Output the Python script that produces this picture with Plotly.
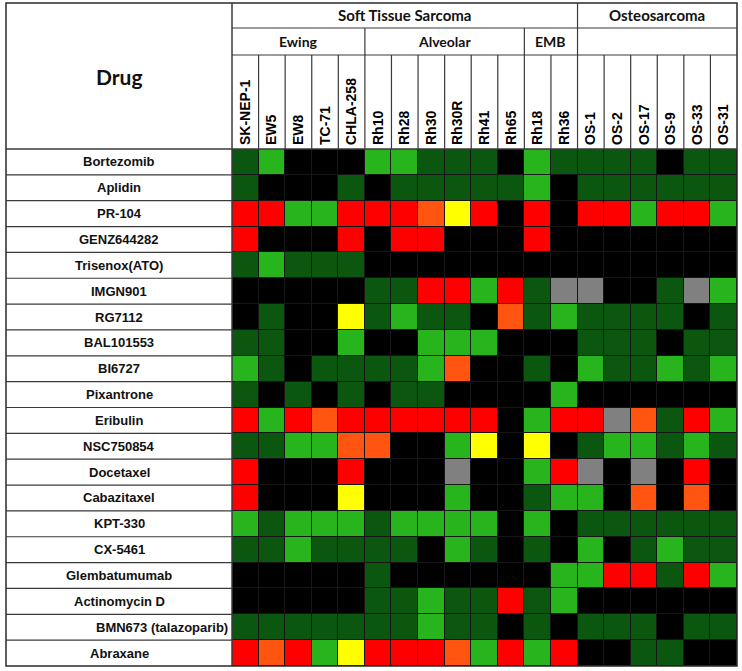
import plotly.graph_objects as go

# ---- data ----
columns = ["SK-NEP-1", "EW5", "EW8", "TC-71", "CHLA-258",
           "Rh10", "Rh28", "Rh30", "Rh30R", "Rh41", "Rh65",
           "Rh18", "Rh36",
           "OS-1", "OS-2", "OS-17", "OS-9", "OS-33", "OS-31"]

drugs = ["Bortezomib", "Aplidin", "PR-104", "GENZ644282", "Trisenox(ATO)",
         "IMGN901", "RG7112", "BAL101553", "BI6727", "Pixantrone",
         "Eribulin", "NSC750854", "Docetaxel", "Cabazitaxel", "KPT-330",
         "CX-5461", "Glembatumumab", "Actinomycin D", "BMN673 (talazoparib)", "Abraxane"]

# response codes: 0 none(black), 1 dark green, 2 bright green, 3 red, 4 orange, 5 yellow, 6 grey
response = [
    [1, 2, 0, 0, 0, 2, 2, 1, 1, 1, 0, 2, 1, 1, 1, 1, 0, 1, 1],
    [1, 0, 0, 0, 1, 0, 1, 1, 1, 1, 1, 2, 0, 1, 1, 1, 1, 1, 1],
    [3, 3, 2, 2, 3, 3, 3, 4, 5, 3, 0, 3, 0, 3, 3, 2, 3, 3, 2],
    [3, 0, 0, 0, 3, 0, 3, 3, 0, 0, 0, 3, 0, 0, 0, 0, 0, 0, 0],
    [1, 2, 1, 1, 1, 0, 0, 0, 0, 0, 0, 0, 0, 0, 0, 0, 0, 0, 0],
    [0, 0, 0, 0, 0, 1, 1, 3, 3, 2, 3, 1, 6, 6, 0, 0, 1, 6, 2],
    [0, 1, 0, 0, 5, 1, 2, 1, 1, 0, 4, 1, 2, 1, 1, 1, 1, 0, 1],
    [1, 1, 0, 0, 2, 0, 0, 2, 2, 2, 0, 0, 0, 1, 1, 1, 0, 1, 1],
    [2, 1, 0, 1, 1, 1, 1, 2, 4, 0, 0, 1, 0, 2, 1, 1, 2, 1, 2],
    [1, 0, 1, 0, 1, 0, 1, 1, 0, 0, 0, 0, 2, 0, 0, 0, 0, 0, 0],
    [3, 2, 3, 4, 3, 3, 3, 3, 3, 3, 0, 2, 3, 3, 6, 4, 1, 3, 2],
    [1, 1, 2, 2, 4, 4, 0, 0, 2, 5, 0, 5, 0, 1, 2, 2, 1, 2, 1],
    [3, 0, 0, 0, 3, 0, 0, 0, 6, 0, 0, 2, 3, 6, 0, 6, 0, 3, 0],
    [3, 0, 0, 0, 5, 0, 0, 0, 2, 0, 0, 1, 2, 2, 0, 4, 0, 4, 0],
    [2, 1, 2, 2, 2, 1, 2, 2, 2, 2, 0, 2, 0, 1, 1, 1, 1, 1, 1],
    [1, 1, 2, 1, 1, 1, 1, 0, 2, 1, 0, 1, 0, 2, 0, 1, 2, 1, 1],
    [0, 0, 0, 0, 0, 1, 0, 0, 0, 0, 0, 0, 2, 2, 3, 3, 1, 3, 2],
    [0, 0, 0, 0, 0, 1, 1, 2, 1, 1, 3, 1, 2, 0, 0, 0, 0, 0, 0],
    [1, 1, 1, 1, 1, 1, 1, 2, 1, 1, 0, 1, 0, 1, 1, 1, 0, 1, 1],
    [3, 4, 3, 2, 5, 3, 3, 3, 4, 2, 3, 2, 3, 0, 0, 1, 1, 0, 0],
]

level1 = [("Soft Tissue Sarcoma", 0, 12), ("Osteosarcoma", 13, 18)]
level2 = [("Ewing", 0, 4), ("Alveolar", 5, 10), ("EMB", 11, 12), ("", 13, 18)]

palette = ["#000000", "#0c5710", "#27b41d", "#ff0000", "#ff5510", "#ffff00", "#808080"]

# ---- figure geometry (pixels) ----
W, H = 742, 671
L, R, T, B = 232, 5, 149, 5
PW, PH = W - L - R, H - T - B


def px_x(p):
    return (p - L) / PW


def px_y(p):
    return (H - B - p) / PH


n = len(palette)
colorscale = []
for k, c in enumerate(palette):
    colorscale.append([k / n, c])
    colorscale.append([(k + 1) / n, c])

fig = go.Figure(go.Heatmap(
    z=response, x=columns, y=drugs,
    colorscale=colorscale, zmin=-0.5, zmax=n - 0.5,
    showscale=False, xgap=1, ygap=1, hoverinfo="skip",
))

line_c = "#3a3a3a"
shapes = []


def hline(x0, x1, y, xref="paper", yref="paper", w=1.2):
    shapes.append(dict(type="line", xref=xref, yref=yref, x0=x0, x1=x1, y0=y, y1=y,
                       line=dict(color=line_c, width=w), layer="above"))


def vline(x, y0, y1, xref="paper", yref="paper", w=1.2):
    shapes.append(dict(type="line", xref=xref, yref=yref, x0=x, x1=x, y0=y0, y1=y1,
                       line=dict(color=line_c, width=w), layer="above"))


left = px_x(6)
top = px_y(3)
r1 = px_y(28)
r2 = px_y(55)

# outer frame
shapes.append(dict(type="rect", xref="paper", yref="paper", x0=left, x1=1, y0=0, y1=top,
                   line=dict(color="#2a2a2a", width=1.5), fillcolor="rgba(0,0,0,0)", layer="above"))
vline(0, 0, top, w=1.5)
hline(left, 1, 1, w=1.5)
hline(0, 1, r1)
hline(0, 1, r2)
# header column dividers
for k in range(1, len(columns)):
    vline(k - 0.5, 1, r2, xref="x")
for _, a, b in level2[:-1]:
    vline(b + 0.5, r2, r1, xref="x")
vline(level1[0][2] + 0.5, r1, top, xref="x")
# drug-column row separators
for i in range(1, len(drugs)):
    hline(left, 0, i - 0.5, yref="y")

ann = []
hdr_font = dict(family="Lato", size=15, color="#111", weight="bold")
for name, a, b in level1:
    ann.append(dict(x=(a + b) / 2, xref="x", y=px_y(15.5), yref="paper", text=name,
                    xanchor="center", yanchor="middle", showarrow=False, font=hdr_font))
for name, a, b in level2:
    if name:
        ann.append(dict(x=(a + b) / 2, xref="x", y=px_y(41.5), yref="paper", text=name,
                        xanchor="center", yanchor="middle", showarrow=False,
                        font=dict(family="Lato", size=14, color="#111", weight="bold")))
ann.append(dict(x=px_x(119), xref="paper", y=px_y(76), yref="paper", text="Drug",
                xanchor="center", yanchor="middle", showarrow=False,
                font=dict(family="Lato", size=21, color="#111", weight="bold")))
for d in drugs:
    if d.startswith("BMN673"):
        ann.append(dict(x=px_x(230), xref="paper", xanchor="right", yanchor="middle",
                        y=d, yref="y", text=d, showarrow=False,
                        font=dict(family="Liberation Sans", size=13, color="#111", weight="bold")))
    else:
        ann.append(dict(x=px_x(119), xref="paper", xanchor="center", yanchor="middle",
                        y=d, yref="y", text=d, showarrow=False,
                        font=dict(family="Liberation Sans", size=13, color="#111", weight="bold")))

fig.update_layout(
    width=W, height=H,
    margin=dict(l=L, r=R, t=T, b=B, pad=0),
    paper_bgcolor="white", plot_bgcolor="#161616",
    shapes=shapes, annotations=ann,
    xaxis=dict(side="top", tickangle=-90, showgrid=False, zeroline=False, ticks="",
               tickfont=dict(family="Liberation Sans", size=14, color="#000", weight="bold"),
               range=[-0.5, len(columns) - 0.5], fixedrange=True, ticklabelstandoff=3),
    yaxis=dict(autorange="reversed", showticklabels=False, showgrid=False, zeroline=False,
               ticks="", fixedrange=True),
)

fig.write_html("out.html", config={"displayModeBar": False},
               post_script="document.body.style.margin='0';")
